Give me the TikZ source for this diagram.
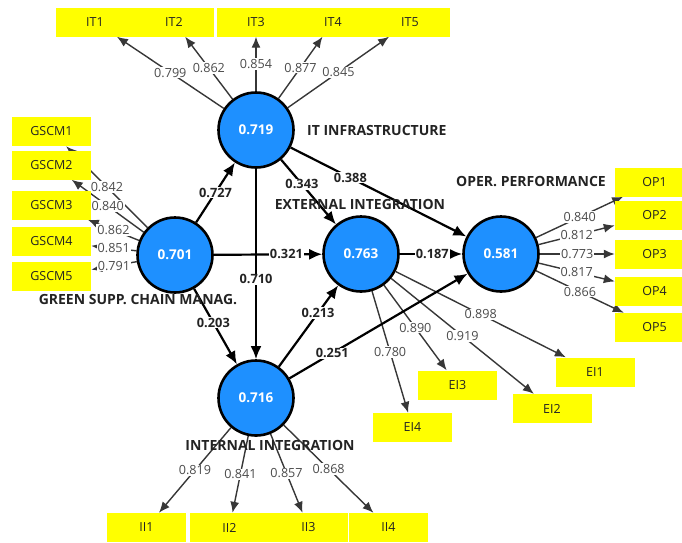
\documentclass[tikz,border=0pt]{standalone}
\usepackage{fontspec}
\setmainfont{Open Sans}
\usepackage{tikz}
\usetikzlibrary{arrows.meta,backgrounds}

\definecolor{lvblue}{RGB}{30,144,255}
\definecolor{mvyellow}{RGB}{255,255,0}
\definecolor{ldgray}{RGB}{55,55,55}
\definecolor{lblgray}{RGB}{75,75,75}
\definecolor{namegray}{RGB}{35,35,35}

\tikzset{
  lv/.style={circle, draw=black, line width=2.6pt, fill=lvblue, minimum size=75pt,
    inner sep=0pt, text=white, font=\bfseries\fontsize{13.5}{14}\selectfont},
  mv/.style={rectangle, fill=mvyellow, minimum width=79pt, minimum height=29pt,
    inner sep=0pt, text=namegray, font=\fontsize{12.5}{13}\selectfont},
  lvname/.style={text=namegray, inner sep=0pt, font=\bfseries\fontsize{14}{15}\selectfont},
  loading/.style={draw=ldgray, line width=1.4pt, -{Latex[length=11pt,width=9pt]}},
  structural/.style={draw=black, line width=2.2pt, -{Latex[length=13pt,width=11pt]}},
  ldlbl/.style={fill=white, inner sep=1pt, text=lblgray, font=\fontsize{12.6}{13}\selectfont},
  pclbl/.style={fill=white, inner sep=1pt, text=namegray, font=\bfseries\fontsize{12.8}{13}\selectfont}
}

\begin{document}
\begin{tikzpicture}[x=1pt, y=-1pt]
  \useasboundingbox (0,0) rectangle (682,542);

  % latent variables
  \node[lv] (IT) at (256,130) {0.719};
  \node[lv] (GSCM) at (175,255) {0.701};
  \node[lv] (EI) at (361,254) {0.763};
  \node[lv] (OP) at (501,254) {0.581};
  \node[lv] (II) at (256,398) {0.716};

  \node[lvname, anchor=west] (ITname) at (307,130) {IT INFRASTRUCTURE};
  \node[lvname] (EIname) at (360,204) {EXTERNAL INTEGRATION};
  \node[lvname] (OPname) at (531,182) {OPER. PERFORMANCE};
  \node[lvname] (GSCMname) at (138,300) {GREEN SUPP. CHAIN MANAG.};
  \node[lvname] (IIname) at (270,445) {INTERNAL INTEGRATION};

  % indicators
  \node[mv] (IT1) at (95,22) {IT1};
  \node[mv] (IT2) at (174,22) {IT2};
  \node[mv] (IT3) at (256,22) {IT3};
  \node[mv] (IT4) at (333,22) {IT4};
  \node[mv] (IT5) at (410,22) {IT5};

  \node[mv] (GSCM1) at (51.5,131.5) {GSCM1};
  \node[mv] (GSCM2) at (51.5,165) {GSCM2};
  \node[mv] (GSCM3) at (51.5,205) {GSCM3};
  \node[mv] (GSCM4) at (51.5,241.5) {GSCM4};
  \node[mv] (GSCM5) at (51.5,276.5) {GSCM5};

  \node[mv] (OP1) at (654.5,182) {OP1};
  \node[mv] (OP2) at (654.5,215.5) {OP2};
  \node[mv] (OP3) at (654.5,254) {OP3};
  \node[mv] (OP4) at (654.5,291) {OP4};
  \node[mv] (OP5) at (654.5,327.5) {OP5};

  \node[mv] (EI1) at (595,372) {EI1};
  \node[mv] (EI2) at (552,408.5) {EI2};
  \node[mv] (EI3) at (457.5,385) {EI3};
  \node[mv] (EI4) at (412.5,427.5) {EI4};

  \node[mv] (II1) at (146.5,527.5) {II1};
  \node[mv] (II2) at (229.5,527.5) {II2};
  \node[mv] (II3) at (308.5,527.5) {II3};
  \node[mv] (II4) at (388.5,527.5) {II4};

  \begin{scope}[on background layer]
    % outer loadings
    \draw[loading] (IT) -- node[ldlbl] {0.799} (IT1);
    \draw[loading] (IT) -- node[ldlbl] {0.862} (IT2);
    \draw[loading] (IT) -- node[ldlbl] {0.854} (IT3);
    \draw[loading] (IT) -- node[ldlbl] {0.877} (IT4);
    \draw[loading] (IT) -- node[ldlbl] {0.845} (IT5);

    \draw[loading] (GSCM) -- node[ldlbl] {0.842} (GSCM1);
    \draw[loading] (GSCM) -- node[ldlbl] {0.840} (GSCM2);
    \draw[loading] (GSCM) -- node[ldlbl] {0.862} (GSCM3);
    \draw[loading] (GSCM) -- node[ldlbl] {0.851} (GSCM4);
    \draw[loading] (GSCM) -- node[ldlbl] {0.791} (GSCM5);

    \draw[loading] (OP) -- node[ldlbl] {0.840} (OP1);
    \draw[loading] (OP) -- node[ldlbl] {0.812} (OP2);
    \draw[loading] (OP) -- node[ldlbl] {0.773} (OP3);
    \draw[loading] (OP) -- node[ldlbl] {0.817} (OP4);
    \draw[loading] (OP) -- node[ldlbl] {0.866} (OP5);

    \draw[loading] (EI) -- node[ldlbl] {0.898} (EI1);
    \draw[loading] (EI) -- node[ldlbl] {0.919} (EI2);
    \draw[loading] (EI) -- node[ldlbl] {0.890} (EI3);
    \draw[loading] (EI) -- node[ldlbl] {0.780} (EI4);

    \draw[loading] (II) -- node[ldlbl] {0.819} (II1);
    \draw[loading] (II) -- node[ldlbl] {0.841} (II2);
    \draw[loading] (II) -- node[ldlbl] {0.857} (II3);
    \draw[loading] (II) -- node[ldlbl] {0.868} (II4);

    % inner model
    \draw[structural] (GSCM) -- node[pclbl, pos=0.5] {0.727} (IT);
    \draw[structural] (IT) -- node[pclbl, pos=0.58] {0.710} (II);
    \draw[structural] (GSCM) -- node[pclbl, pos=0.67] {0.321} (EI);
    \draw[structural] (GSCM) -- node[pclbl, pos=0.45] {0.203} (II);
    \draw[structural] (II) -- node[pclbl, pos=0.66] {0.213} (EI);
    \draw[structural] (II) -- node[pclbl, pos=0.24] {0.251} (OP);
    \draw[structural] (IT) -- node[pclbl, pos=0.38] {0.343} (EI);
    \draw[structural] (IT) -- node[pclbl, pos=0.34] {0.388} (OP);
    \draw[structural] (EI) -- node[pclbl, pos=0.52] {0.187} (OP);
  \end{scope}
\end{tikzpicture}
\end{document}
